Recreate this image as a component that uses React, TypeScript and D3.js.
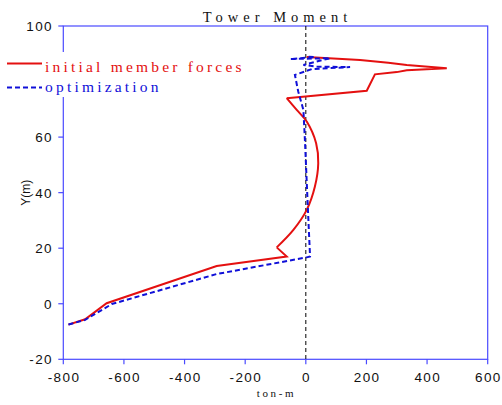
import React from "react";
import * as d3 from "d3";

const title = "Tower Moment";
const xLabel = "ton-m";
const yLabel = "Y(m)";
const xTicks = [-800, -600, -400, -200, 0, 200, 400, 600];
// tick 80 is hidden behind the legend in the reference
const yTicks = [-20, 0, 20, 40, 60, 100];
const seriesNames = ["initial member forces", "optimization"];

// initial member forces: [moment (ton-m), Y (m)]
// lower straight part
const initLowX = [-783, -728, -657, -294, -63, -96];
const initLowY = [-7.5, -5.6, 0.2, 13.6, 17, 20.3];
// smooth middle part
const initMidX = [-96, -41, 3, 30, 41, 34, 3, -30, -63];
const initMidY = [20.3, 26.6, 33.8, 42.2, 50.6, 57.8, 65.6, 69.8, 74];
// upper straight part
const initTopX = [-63, 201, 228, 300, 333, 465, 333, 272, 179, 3];
const initTopY = [74, 76.7, 82.6, 83.4, 84.1, 84.8, 86, 86.8, 87.8, 88.8];

// optimization
const optX = [-783, -728, -640, -294, 3, 14, 8, -3, -8, -25, -36, 20, 146, 36, -8, 80, -52, 30, 3];
const optY = [-7.5, -5.8, -0.1, 10.7, 16.7, 17, 31.4, 59, 69.8, 76.4, 82.4, 84.5, 85.2, 85.4, 86, 88.4, 88.1, 88.8, 89];

const zip = (a: number[], b: number[]) => a.map((v, i) => [v, b[i]] as [number, number]);

export default function App() {
  const W = 502, H = 405;
  const x = d3.scaleLinear().domain([-800, 600]).range([63.3, 487.7]);
  const y = d3.scaleLinear().domain([-20, 100]).range([359.3, 26]);
  const line = d3.line<[number, number]>().x(d => x(d[0])).y(d => y(d[1]));
  const smooth = d3.line<[number, number]>().x(d => x(d[0])).y(d => y(d[1])).curve(d3.curveCatmullRom.alpha(0.5));
  const red = "#e41010";
  const blue = "#1010d8";
  const axisColor = "#4a4aff";
  const sans = "'Liberation Sans', Arial, sans-serif";
  const serif = "'Liberation Serif', 'Times New Roman', serif";
  const [x0, x1] = x.range();
  const [yb, yt] = y.range();
  return (
    <svg width={W} height={H} style={{ position: "absolute", left: 0, top: 0 }}>
      <rect x={0} y={0} width={W} height={H} fill="#fff" />
      <rect x={x0} y={yt} width={x1 - x0} height={yb - yt} fill="none" stroke={axisColor} strokeWidth={1.2} />
      <line x1={x(0)} x2={x(0)} y1={yt} y2={yb} stroke="#000" strokeWidth={1} strokeDasharray="4,3" />
      {xTicks.map(t => (
        <g key={"xt" + t}>
          <line x1={x(t)} x2={x(t)} y1={yb} y2={yb + 5} stroke={axisColor} strokeWidth={1.2} />
          <text x={x(t) + 0.7} y={382} textAnchor="middle" fontFamily={sans} fontSize={13.5} letterSpacing={1.4} fill="#111">{t}</text>
        </g>
      ))}
      {yTicks.map(t => (
        <g key={"yt" + t}>
          <line x1={x0 - 5} x2={x0} y1={y(t)} y2={y(t)} stroke={axisColor} strokeWidth={1.2} />
          <text x={53} y={y(t) + 5} textAnchor="end" fontFamily={sans} fontSize={13.5} letterSpacing={1.4} fill="#111">{t}</text>
        </g>
      ))}
      <path d={line(zip(initLowX, initLowY)) || ""} fill="none" stroke={red} strokeWidth={2} />
      <path d={smooth(zip(initMidX, initMidY)) || ""} fill="none" stroke={red} strokeWidth={2} />
      <path d={line(zip(initTopX, initTopY)) || ""} fill="none" stroke={red} strokeWidth={2} />
      <path d={line(zip(optX, optY)) || ""} fill="none" stroke={blue} strokeWidth={2} strokeDasharray="5,3" />
      <rect x={0} y={52} width={248} height={45} fill="#fff" />
      <line x1={7} x2={42} y1={63.5} y2={63.5} stroke={red} strokeWidth={2} />
      <text x={45} y={72} fontFamily={serif} fontSize={15.5} letterSpacing={3.2} fill={red}>{seriesNames[0]}</text>
      <line x1={7} x2={42} y1={87.5} y2={87.5} stroke={blue} strokeWidth={2} strokeDasharray="5,3" />
      <text x={45} y={92} fontFamily={serif} fontSize={15.5} letterSpacing={3.2} fill={blue}>{seriesNames[1]}</text>
      <text x={(x0 + x1) / 2 + 2} y={22} textAnchor="middle" fontFamily={serif} fontSize={14.5} letterSpacing={5} fill="#111">{title}</text>
      <text x={(x0 + x1) / 2 + 1} y={397} textAnchor="middle" fontFamily={serif} fontSize={11} letterSpacing={2.6} fill="#111">{xLabel}</text>
      <text transform={`translate(30, ${(yt + yb) / 2}) rotate(-90)`} textAnchor="middle" fontFamily={sans} fontSize={12} fill="#111">{yLabel}</text>
    </svg>
  );
}
